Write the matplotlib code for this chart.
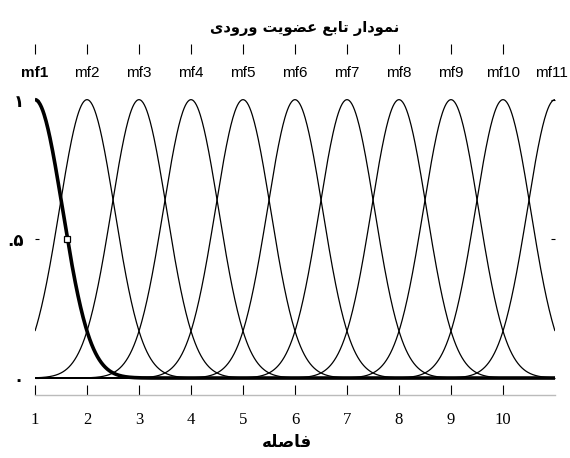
import matplotlib
matplotlib.use('Agg')
import matplotlib.pyplot as plt
import numpy as np

# مراکز توابع عضویت گوسی و پهنای آنها
centers = [1, 2, 3, 4, 5, 6, 7, 8, 9, 10, 11]
sigma = 0.53
mf_names = ['mf1', 'mf2', 'mf3', 'mf4', 'mf5', 'mf6', 'mf7', 'mf8', 'mf9', 'mf10', 'mf11']
x_ticks = [1, 2, 3, 4, 5, 6, 7, 8, 9, 10]
y_ticks = [0, 0.5, 1]
y_tick_labels = ['\u06f0', '.\u06f5', '\u06f1']

# متن فارسی به صورت شکل‌های نمایشی (ترتیب منطقی، بعدا معکوس می‌شود)
title_shaped = ('\ufee7\ufee4\ufeee\ufea9\ufe8d\ufead' + ' ' +
                '\ufe97\ufe8e\ufe91\ufeca' + ' ' +
                '\ufecb\ufec0\ufeee\ufbfe\ufe96' + ' ' +
                '\ufeed\ufead\ufeed\ufea9\ufbfc')
xlabel_shaped = '\ufed3\ufe8e\ufebb\ufee0\ufeea'


def visual(s):
    return s[::-1]


fig = plt.figure(figsize=(5.7, 4.58), dpi=100)
ax = fig.add_axes([35 / 570, 63 / 458, 520 / 570, 351 / 458])

xs = np.linspace(1, 11, 800)
for i, c in enumerate(centers):
    ys = np.exp(-(xs - c) ** 2 / (2 * sigma ** 2))
    lw = 2.6 if i == 0 else 0.9
    ax.plot(xs, ys, color='black', lw=lw, solid_capstyle='butt')
    ax.text(c - (0.06 if i == 10 else 0), 1.097, mf_names[i], ha='center', va='center',
            fontsize=11, family='Liberation Sans',
            fontweight='bold' if i == 0 else 'normal', clip_on=False)

# مربع انتخاب روی mf1 در مقدار ۰.۵
xm = centers[0] + sigma * np.sqrt(2 * np.log(2))
ax.plot([xm], [0.5], marker='s', ms=5, mfc='white', mec='black', mew=0.9)

ax.set_xlim(1, 11)
ax.set_ylim(-0.061, 1.2)

ax.set_xticks(x_ticks)
ax.set_xticklabels([str(t) for t in x_ticks], family='Liberation Serif', fontsize=12)
ax.set_yticks(y_ticks)
ax.set_yticklabels(y_tick_labels, family='DejaVu Sans', fontsize=12, fontweight='bold')
ax.tick_params(axis='x', direction='in', length=7, width=0.8, pad=12, top=True)
ax.tick_params(axis='y', direction='in', length=3, width=0.8, pad=8, right=True)

for side in ['top', 'left', 'right']:
    ax.spines[side].set_visible(False)
ax.spines['bottom'].set_color('#bbbbbb')
ax.spines['bottom'].set_linewidth(1.0)

fig.text(305 / 570, 1 - 28 / 458, visual(title_shaped), ha='center', va='center',
         fontsize=10.5, fontweight='bold', family='DejaVu Sans')
fig.text(287 / 570, 1 - 442 / 458, visual(xlabel_shaped), ha='center', va='center',
         fontsize=12, fontweight='bold', family='DejaVu Sans')

fig.savefig('out.png', dpi=100)
